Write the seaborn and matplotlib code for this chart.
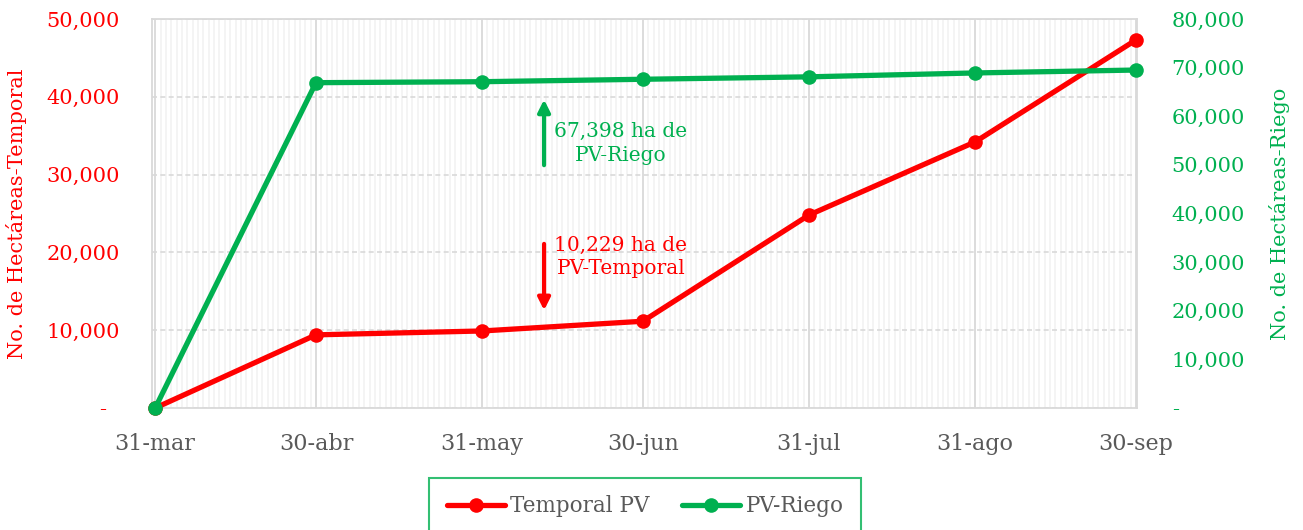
import pandas as pd
import numpy as np
import matplotlib.pyplot as plt
import matplotlib.dates as mdates
import matplotlib.ticker as mticker
import seaborn as sns

fechas = ['2023-03-31', '2023-04-30', '2023-05-31', '2023-06-30',
          '2023-07-31', '2023-08-31', '2023-09-30']
etiquetas = ['31-mar', '30-abr', '31-may', '30-jun', '31-jul', '31-ago', '30-sep']
temporal = [0, 9400, 9900, 11150, 24800, 34200, 47300]
riego = [0, 66900, 67100, 67600, 68100, 68900, 69500]

ROJO = '#FF0000'
VERDE = '#00B050'
GRIS = '#595959'

sns.set_theme(style='white')
plt.rcParams['font.family'] = ['DejaVu Serif', 'DejaVu Sans']

df = pd.DataFrame({'fecha': pd.to_datetime(fechas), 'temporal': temporal, 'riego': riego})

fig = plt.figure(figsize=(13.03, 5.30), dpi=100)
ax = fig.add_axes([0.1167, 0.2302, 0.7559, 0.734])
ax2 = ax.twinx()

sns.lineplot(data=df, x='fecha', y='temporal', ax=ax, color=ROJO, lw=3.8,
             marker='o', markersize=10.5, markeredgewidth=0, clip_on=False,
             label='Temporal PV', legend=False, zorder=5)
sns.lineplot(data=df, x='fecha', y='riego', ax=ax2, color=VERDE, lw=3.8,
             marker='o', markersize=10.5, markeredgewidth=0, clip_on=False,
             label='PV-Riego', legend=False, zorder=5)

x0 = df['fecha'].iloc[0] - pd.Timedelta(hours=14)
x1 = df['fecha'].iloc[-1] + pd.Timedelta(hours=5)
ax.set_xlim(x0, x1)
ax.set_ylim(0, 50000)
ax2.set_ylim(0, 80000)

ax.set_xticks(df['fecha'])
ax.set_xticklabels(etiquetas)
ax.xaxis.set_minor_locator(mdates.DayLocator())
ax.set_yticks(np.arange(0, 50001, 10000))
ax2.set_yticks(np.arange(0, 80001, 10000))


def miles_izq(v, pos):
    return '-\u2007' if v == 0 else f'{v:,.0f}'


def miles_der(v, pos):
    return '-' if v == 0 else f'{v:,.0f}'


ax.yaxis.set_major_formatter(mticker.FuncFormatter(miles_izq))
ax2.yaxis.set_major_formatter(mticker.FuncFormatter(miles_der))

ax.grid(which='minor', axis='x', color='#F2F2F2', lw=1.2)
ax.grid(which='major', axis='x', color='#D9D9D9', lw=1.3)
ax.grid(which='major', axis='y', color='#D9D9D9', lw=1.2, ls=(0, (3, 2)))
ax.set_axisbelow(True)

for s in ax.spines.values():
    s.set_color('#D9D9D9')
    s.set_linewidth(1.3)
for s in ax2.spines.values():
    s.set_visible(False)

ax.tick_params(axis='y', colors=ROJO, labelsize=15, length=0, pad=23)
ax2.tick_params(axis='y', colors=VERDE, labelsize=15, length=0, pad=25)
ax.tick_params(axis='x', which='major', colors='#D9D9D9', labelcolor=GRIS,
               labelsize=16, length=6, width=1.3, pad=12)
ax.tick_params(axis='x', which='minor', length=0)

ax.set_xlabel('')
ax.set_ylabel('No. de Hectáreas-Temporal', color=ROJO, fontsize=15, labelpad=14)
ax2.set_ylabel('No. de Hectáreas-Riego', color=VERDE, fontsize=15, labelpad=17)

# anotaciones
ax.annotate('', xy=(0.398, 0.80), xytext=(0.398, 0.617), xycoords='axes fraction',
            arrowprops=dict(arrowstyle='-|>', color=VERDE, lw=3, mutation_scale=18))
ax.text(0.476, 0.68, '67,398 ha de\nPV-Riego', transform=ax.transAxes, color=VERDE,
        fontsize=14.5, ha='center', va='center', linespacing=1.3)
ax.annotate('', xy=(0.398, 0.244), xytext=(0.398, 0.429), xycoords='axes fraction',
            arrowprops=dict(arrowstyle='-|>', color=ROJO, lw=3, mutation_scale=18))
ax.text(0.476, 0.389, '10,229 ha de\nPV-Temporal', transform=ax.transAxes, color=ROJO,
        fontsize=14.5, ha='center', va='center', linespacing=1.3)

h1 = ax.get_lines()[0]
h2 = ax2.get_lines()[0]
leg = fig.legend(handles=[h1, h2], labels=['Temporal PV', 'PV-Riego'],
                 loc='upper center', bbox_to_anchor=(0.495, 0.098), ncol=2,
                 frameon=True, fancybox=False, edgecolor=VERDE, fontsize=15.5,
                 handlelength=2.7, handletextpad=0.25, columnspacing=1.5,
                 borderpad=0.8, borderaxespad=0)
leg.get_frame().set_linewidth(1.5)
for t in leg.get_texts():
    t.set_color(GRIS)

fig.savefig('out.png', dpi=100)
